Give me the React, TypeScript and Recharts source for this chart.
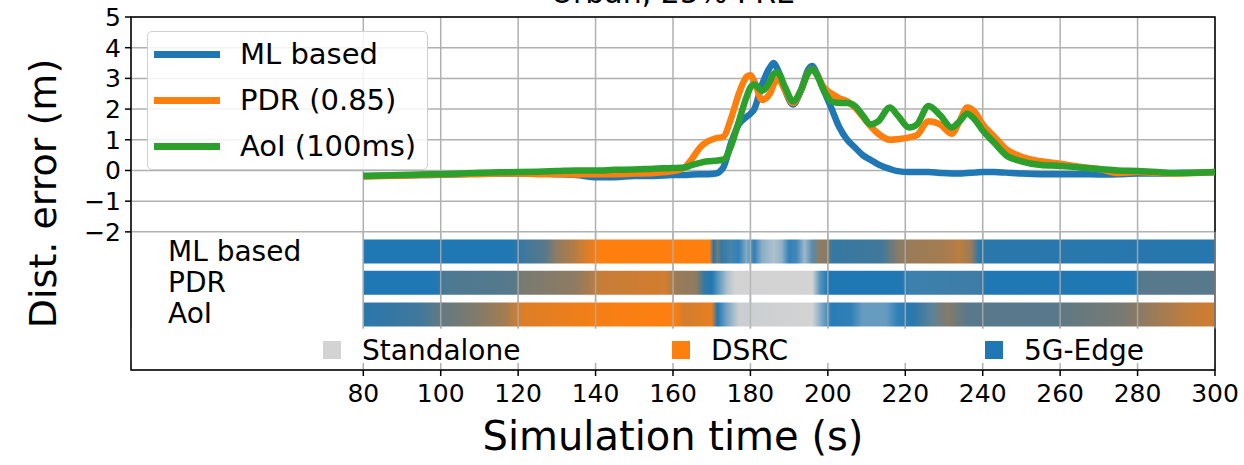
import React from "react";
import {
  ComposedChart,
  Line,
  XAxis,
  YAxis,
  CartesianGrid,
  ReferenceArea,
  ReferenceLine,
} from "recharts";

// simulation time (s)
const TIME = [
  80, 85, 90, 95, 100, 105, 110, 115, 120, 125, 130, 135, 140, 145, 150, 155, 160, 163, 165, 167,
  169, 171, 173, 175, 177, 179, 180, 181, 183, 185, 186, 187, 189, 191, 193, 195, 196, 197, 199,
  201, 203, 205, 207, 209, 211, 213, 216, 218, 221, 223, 226, 229, 232, 234, 236, 238, 240, 243,
  246, 250, 255, 260, 265, 270, 275, 280, 285, 290, 295, 300,
];

// distance error (m) per scheme
const ML_ERR = [
  -0.18, -0.17, -0.16, -0.15, -0.14, -0.12, -0.1, -0.1, -0.1, -0.1, -0.12, -0.15, -0.22, -0.22,
  -0.18, -0.18, -0.15, -0.15, -0.13, -0.12, -0.12, -0.1, 0.1, 0.9, 1.5, 1.75, 1.85, 2.0, 2.8, 3.35,
  3.5, 3.3, 2.6, 2.15, 2.6, 3.3, 3.4, 3.2, 2.6, 2.0, 1.4, 1.0, 0.75, 0.5, 0.35, 0.2, 0.05, -0.02,
  -0.05, -0.05, -0.05, -0.08, -0.1, -0.1, -0.08, -0.07, -0.05, -0.05, -0.07, -0.1, -0.12, -0.12,
  -0.12, -0.13, -0.12, -0.1, -0.1, -0.08, -0.07, -0.05,
];
const PDR_ERR = [
  -0.2, -0.18, -0.17, -0.15, -0.13, -0.12, -0.12, -0.1, -0.1, -0.12, -0.12, -0.13, -0.12, -0.12,
  -0.1, -0.08, -0.02, 0.1, 0.4, 0.75, 0.95, 1.05, 1.1, 1.7, 2.5, 3.05, 3.1, 2.9, 2.3, 2.5, 2.8, 3.0,
  2.6, 2.2, 2.6, 3.2, 3.3, 3.15, 2.7, 2.5, 2.35, 2.25, 2.05, 1.75, 1.45, 1.2, 1.0, 1.02, 1.08, 1.15,
  1.6, 1.5, 1.2, 1.6, 2.05, 1.9, 1.5, 1.1, 0.7, 0.45, 0.3, 0.22, 0.12, 0.05, -0.08, -0.05, -0.08,
  -0.1, -0.08, -0.05,
];
const AOI_ERR = [
  -0.18, -0.16, -0.15, -0.13, -0.12, -0.1, -0.07, -0.06, -0.05, -0.04, -0.02, 0.0, 0.0, 0.02, 0.03,
  0.06, 0.08, 0.1, 0.18, 0.25, 0.3, 0.32, 0.35, 0.8, 1.6, 2.4, 2.7, 2.8, 2.6, 2.9, 3.15, 3.2, 2.7,
  2.25, 2.6, 3.2, 3.3, 3.15, 2.6, 2.25, 2.2, 2.2, 2.1, 1.8, 1.5, 1.6, 2.05, 1.8, 1.4, 1.5, 2.1, 1.8,
  1.4, 1.6, 1.85, 1.65, 1.3, 0.9, 0.5, 0.3, 0.18, 0.15, 0.1, 0.05, 0.0, -0.02, -0.05, -0.08, -0.07,
  -0.05,
];

// connectivity mode share over time: [t, 5G-Edge, DSRC, Standalone]
const ML_MODES = [
  [80, 1, 0, 0], [118, 1, 0, 0], [122, 0.85, 0.15, 0], [127, 0.75, 0.25, 0], [130, 0.5, 0.5, 0],
  [134, 0.35, 0.65, 0], [138, 0.15, 0.85, 0], [141, 0, 1, 0], [169.5, 0, 1, 0], [170.5, 1, 0, 0],
  [171.5, 0.6, 0.4, 0], [172.5, 0.9, 0.1, 0], [175, 0.8, 0.05, 0.15], [177, 0.9, 0, 0.1],
  [179, 0.45, 0, 0.55], [181, 0.9, 0, 0.1], [183, 0.4, 0, 0.6], [186, 0.2, 0, 0.8],
  [188, 0.35, 0, 0.65], [190, 0.9, 0, 0.1], [192, 0.8, 0, 0.2], [194, 0.3, 0, 0.7],
  [196, 0.7, 0.1, 0.2], [198, 0.5, 0.5, 0], [200, 0.55, 0.45, 0], [201, 0.9, 0.1, 0],
  [214, 0.85, 0.15, 0], [218, 0.55, 0.45, 0], [221, 0.45, 0.55, 0], [230, 0.4, 0.6, 0],
  [234, 0.3, 0.7, 0], [237, 0.45, 0.55, 0], [239, 0.95, 0.05, 0], [300, 0.97, 0.03, 0],
];
const PDR_MODES = [
  [80, 1, 0, 0], [99, 1, 0, 0], [101, 0.8, 0.2, 0], [119, 0.75, 0.25, 0], [121, 0.6, 0.4, 0],
  [135, 0.5, 0.5, 0], [138, 0.4, 0.6, 0], [141, 0.25, 0.75, 0], [158, 0.2, 0.8, 0],
  [161, 0.45, 0.55, 0], [166, 0.5, 0.5, 0], [168, 0.9, 0.1, 0], [170, 1, 0, 0], [172, 0.6, 0, 0.4],
  [174, 0.2, 0, 0.8], [176, 0, 0, 1], [196, 0, 0, 1], [198, 0.7, 0, 0.3], [200, 1, 0, 0],
  [219, 1, 0, 0], [221, 0.85, 0.05, 0.1], [239, 0.85, 0.1, 0.05], [241, 1, 0, 0], [279, 1, 0, 0],
  [281, 0.75, 0.25, 0], [300, 0.75, 0.25, 0],
];
const AOI_MODES = [
  [80, 0.95, 0.05, 0], [95, 0.85, 0.15, 0], [100, 0.7, 0.3, 0], [110, 0.55, 0.45, 0],
  [117, 0.4, 0.6, 0], [121, 0.15, 0.85, 0], [140, 0.05, 0.95, 0], [160, 0, 1, 0],
  [163, 0.2, 0.8, 0], [167, 0.15, 0.85, 0], [170, 0.1, 0.9, 0], [171.5, 1, 0, 0],
  [174, 0.5, 0, 0.5], [177, 0.05, 0, 0.95], [196, 0, 0, 1], [199, 0.6, 0, 0.4],
  [201, 0.95, 0, 0.05], [206, 0.9, 0, 0.1], [209, 0.6, 0, 0.4], [215, 0.6, 0, 0.4],
  [218, 0.9, 0, 0.1], [222, 0.95, 0.05, 0], [227, 0.7, 0.2, 0.1], [231, 0.55, 0.45, 0],
  [236, 0.75, 0.25, 0], [258, 0.75, 0.25, 0], [262, 0.7, 0.3, 0], [276, 0.6, 0.4, 0],
  [284, 0.45, 0.55, 0], [292, 0.3, 0.7, 0], [300, 0.2, 0.8, 0],
];

const X_TICKS = [80, 100, 120, 140, 160, 180, 200, 220, 240, 260, 280, 300];
const Y_TICKS = [-2, -1, 0, 1, 2, 3, 4, 5];

const BLUE = "#1f77b4";
const ORANGE = "#ff7f0e";
const GREEN = "#2ca02c";
const LIGHT = "#d3d3d3";
const FONT = "DejaVu Sans";

const rgb = (hex: string) => [1, 3, 5].map((i) => parseInt(hex.slice(i, i + 2), 16));
const mixColor = (g5: number, dsrc: number, alone: number) => {
  const [b, o, l] = [rgb(BLUE), rgb(ORANGE), rgb(LIGHT)];
  const c = [0, 1, 2].map((k) => Math.round(b[k] * g5 + o[k] * dsrc + l[k] * alone));
  return `rgb(${c[0]},${c[1]},${c[2]})`;
};

const rows = TIME.map((t, i) => ({ t, ml: ML_ERR[i], pdr: PDR_ERR[i], aoi: AOI_ERR[i] }));

const strips = [
  { id: "ml", label: "ML based", modes: ML_MODES, y1: -3.03, y2: -2.25 },
  { id: "pdr", label: "PDR", modes: PDR_MODES, y1: -4.05, y2: -3.27 },
  { id: "aoi", label: "AoI", modes: AOI_MODES, y1: -5.08, y2: -4.3 },
];

const lineLegend = [
  { name: "ML based", color: BLUE },
  { name: "PDR (0.85)", color: ORANGE },
  { name: "AoI (100ms)", color: GREEN },
];

const modeLegend = [
  { name: "Standalone", color: LIGHT, x: 323 },
  { name: "DSRC", color: ORANGE, x: 672 },
  { name: "5G-Edge", color: BLUE, x: 985 },
];

const fmt = (v: number) => (v < 0 ? `\u2212${Math.abs(v)}` : `${v}`);

export default function App() {
  return (
    <div style={{ position: "absolute", left: 0, top: 0, width: 1244, height: 465, background: "#fff", overflow: "hidden", fontFamily: FONT }}>
      <div style={{ position: "absolute", left: 0, width: 1346, top: -25, textAlign: "center", fontSize: 30, color: "#000" }}>
        Urban, 25% PRE
      </div>
      <ComposedChart width={1244} height={465} data={rows} margin={{ top: 17, right: 29, bottom: 55, left: 71 }}>
        <defs>
          {strips.map((s) => (
            <linearGradient key={s.id} id={`grad-${s.id}`} x1="0" y1="0" x2="1" y2="0">
              {s.modes.map((m, i) => (
                <stop key={i} offset={(m[0] - 80) / 220} stopColor={mixColor(m[1], m[2], m[3])} />
              ))}
            </linearGradient>
          ))}
        </defs>
        <CartesianGrid stroke="#b0b0b0" strokeWidth={1.5} />
        <XAxis
          type="number"
          dataKey="t"
          domain={[20, 300]}
          ticks={X_TICKS}
          interval={0}
          allowDataOverflow
          axisLine={false}
          tickLine={{ stroke: "#000", strokeWidth: 1.5 }}
          tickSize={6}
          tickMargin={8}
          height={40}
          tick={{ fill: "#000", fontSize: 25, fontFamily: FONT }}
          label={{ value: "Simulation time (s)", position: "bottom", offset: 12, fill: "#000", fontSize: 40, fontFamily: FONT }}
        />
        <YAxis
          type="number"
          domain={[-6.5, 5]}
          ticks={Y_TICKS}
          interval={0}
          allowDataOverflow
          axisLine={false}
          tickLine={{ stroke: "#000", strokeWidth: 1.5 }}
          tickSize={6}
          tickMargin={4}
          width={60}
          tickFormatter={fmt}
          tick={{ fill: "#000", fontSize: 25, fontFamily: FONT }}
          label={{
            value: "Dist. error (m)",
            angle: -90,
            position: "center",
            dx: -58,
            fill: "#000",
            fontSize: 38,
            fontFamily: FONT,
          }}
        />
        {strips.map((s) => (
          <ReferenceArea key={s.id} x1={80} x2={300} y1={s.y1} y2={s.y2} fill={`url(#grad-${s.id})`} fillOpacity={1} stroke="none" />
        ))}
        {X_TICKS.map((t) => (
          <ReferenceLine key={t} segment={[{ x: t, y: -2 }, { x: t, y: -5.15 }]} stroke="#b0b0b0" strokeWidth={1.5} strokeOpacity={0.8} />
        ))}
        <ReferenceArea x1={20} x2={300} y1={-6.27} y2={-5.15} fill="#fff" fillOpacity={1} stroke="none" />
        <Line dataKey="ml" stroke={BLUE} strokeWidth={6.5} dot={false} type="monotone" isAnimationActive={false} />
        <Line dataKey="pdr" stroke={ORANGE} strokeWidth={6.5} dot={false} type="monotone" isAnimationActive={false} />
        <Line dataKey="aoi" stroke={GREEN} strokeWidth={6.5} dot={false} type="monotone" isAnimationActive={false} />
        <ReferenceArea x1={20} x2={300} y1={-6.5} y2={5} fill="none" stroke="#000" strokeWidth={1.5} />
      </ComposedChart>

      <div style={{ position: "absolute", left: 147, top: 31, width: 279, height: 137, background: "rgba(255,255,255,0.85)", border: "1.5px solid #d0d0d0", borderRadius: 5 }}>
        {lineLegend.map((l, i) => (
          <div key={l.name} style={{ position: "absolute", left: 6, top: 7 + i * 46, height: 30, display: "flex", alignItems: "center" }}>
            <div style={{ width: 66, height: 7, background: l.color }} />
            <span style={{ marginLeft: 20, fontSize: 29, color: "#000" }}>{l.name}</span>
          </div>
        ))}
      </div>

      {strips.map((s, i) => (
        <div key={s.id} style={{ position: "absolute", left: 168, top: 236 + i * 31, fontSize: 28, lineHeight: "32px", color: "#000" }}>
          {s.label}
        </div>
      ))}

      {modeLegend.map((m) => (
        <div key={m.name} style={{ position: "absolute", left: m.x, top: 334, display: "flex", alignItems: "center", height: 32 }}>
          <div style={{ width: 18, height: 18, background: m.color }} />
          <span style={{ marginLeft: 21, fontSize: 28, color: "#000" }}>{m.name}</span>
        </div>
      ))}
    </div>
  );
}
